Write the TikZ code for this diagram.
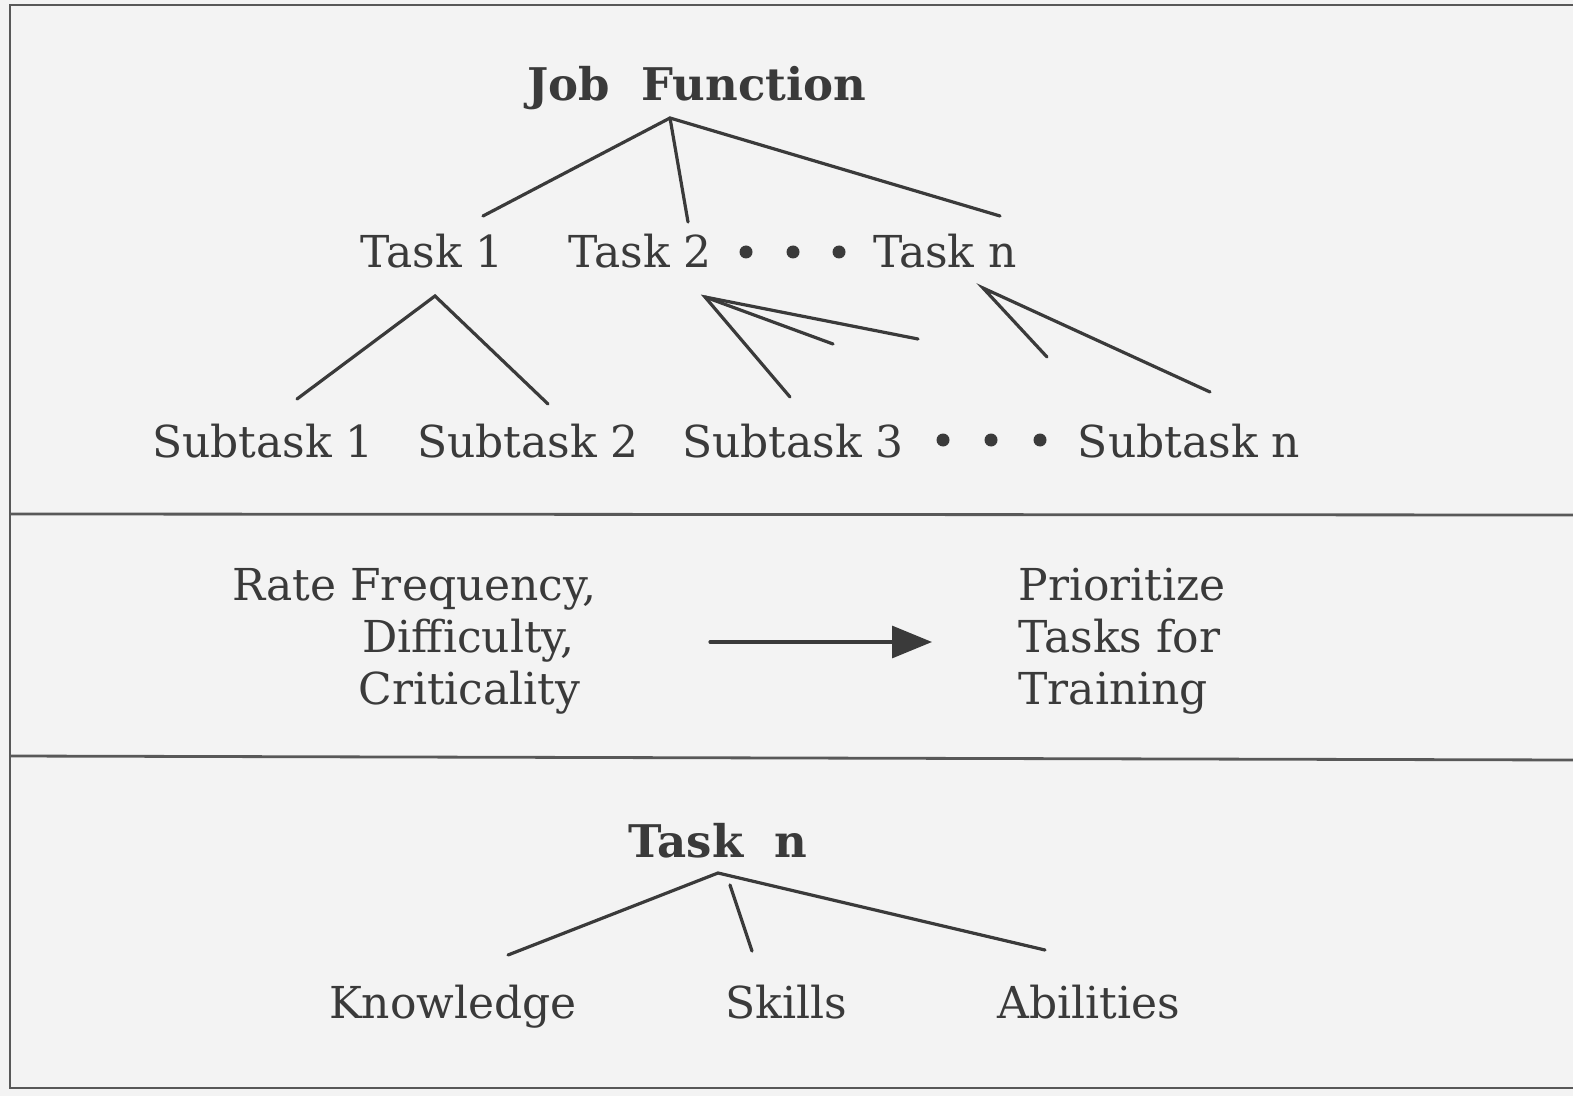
\documentclass[tikz,border=0pt]{standalone}
\usepackage{fontspec}
\setmainfont{DejaVu Serif}
\usetikzlibrary{arrows.meta}
\definecolor{ink}{HTML}{3A3A3A}
\definecolor{paper}{HTML}{F3F3F3}
\tikzset{
  txt/.style={inner sep=0pt, text=ink, font=\fontsize{22}{28}\selectfont, anchor=base},
  btxt/.style={txt, font=\fontsize{22.5}{28}\selectfont\bfseries},
  link/.style={draw=ink, line width=1.6pt, line cap=round},
  frameline/.style={draw=ink!85, line width=1.4pt},
  dotc/.style={circle, fill=ink, inner sep=0pt, minimum size=6.5pt},
}
\begin{document}
\begin{tikzpicture}[x=0.5pt, y=-0.5pt]
\fill[paper] (0,0) rectangle (1573,1096);
\useasboundingbox (0,0) rectangle (1573,1096);
% frame
\draw[frameline] (1573,5) -- (10,5) -- (10,1088) -- (1573,1088);
\draw[frameline] (10,514) -- (1573,515);
\draw[frameline] (10,756) -- (1573,760);

% top section
\node[btxt] (job) at (697,101) {Job\ \ Function};
\node[txt] (t1) at (432,268) {Task 1};
\node[txt] (t2) at (640,268) {Task 2};
\node[txt] (tn) at (945,268) {Task n};
\node[dotc] (d1) at (746,252) {};
\node[dotc] (d2) at (793,252) {};
\node[dotc] (d3) at (839,252) {};
\node[txt] (s1) at (263,457) {Subtask 1};
\node[txt] (s2) at (528,457) {Subtask 2};
\node[txt] (s3) at (793,457) {Subtask 3};
\node[txt] (sn) at (1189,457) {Subtask n};
\node[dotc] (e1) at (943,440) {};
\node[dotc] (e2) at (991,440) {};
\node[dotc] (e3) at (1040,440) {};

\coordinate (ja) at (670,118);
\coordinate (j1) at (483,216);
\coordinate (j2) at (688,222);
\coordinate (j3) at (1000,216);
\draw[link] (j1) -- (ja) -- (j3);
\draw[link] (ja) -- (j2);

\coordinate (a1) at (435,296);
\coordinate (a1l) at (297,399);
\coordinate (a1r) at (548,404);
\draw[link] (a1l) -- (a1) -- (a1r);

\coordinate (a2) at (705,297);
\coordinate (a2a) at (790,397);
\coordinate (a2b) at (833,344);
\coordinate (a2c) at (918,339);
\draw[link] (a2a) -- (a2) -- (a2c);
\draw[link] (a2) -- (a2b);

\coordinate (an) at (983,288);
\coordinate (anl) at (1047,357);
\coordinate (anr) at (1210,392);
\draw[link] (anl) -- (an) -- (anr);

% middle section
\node[txt, align=left, anchor=north west] (rate) at (232,568) {Rate Frequency,\\[-2pt]\hspace*{65pt}Difficulty,\\[-2pt]\hspace*{63pt}Criticality};
\node[txt, align=left, anchor=north west] (prio) at (1018,568) {Prioritize\\[-2pt]Tasks for\\[-2pt]Training};
\coordinate (arrs) at (710,642);
\coordinate (arre) at (932,642);
\draw[link, -{Triangle[length=20pt, width=16pt]}] (arrs) -- (arre);

% bottom section
\node[btxt] (tnb) at (718,857) {Task\ \ n};
\node[txt] (kn) at (453,1018) {Knowledge};
\node[txt] (sk) at (786,1018) {Skills};
\node[txt] (ab) at (1089,1018) {Abilities};
\coordinate (ba) at (718,873);
\coordinate (bk) at (508,955);
\coordinate (bm0) at (730,885);
\coordinate (bm) at (752,951);
\coordinate (bb) at (1045,950);
\draw[link] (bk) -- (ba) -- (bb);
\draw[link] (bm0) -- (bm);
\end{tikzpicture}
\end{document}
